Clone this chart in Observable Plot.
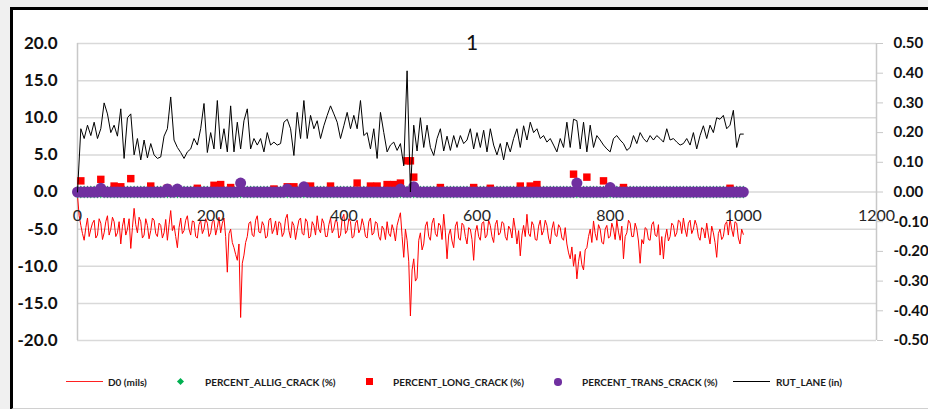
<!DOCTYPE html>
<html><head><meta charset="utf-8">
<script src="https://cdn.jsdelivr.net/npm/d3@7"></script>
<script src="https://cdn.jsdelivr.net/npm/@observablehq/plot@0.6"></script>
<style>
html,body{margin:0;padding:0;background:#f0f0f0;width:928px;height:409px;overflow:hidden;font-family:Lato,"Open Sans",sans-serif;}
#frame{position:absolute;left:10px;top:7px;width:940px;height:398px;background:#fff;border-top:3px solid #000;border-left:3px solid #000;border-bottom:2px solid #d0d0d0;}
#chart{position:absolute;left:0;top:0;}
#title{position:absolute;left:422px;width:100px;top:31px;line-height:22px;text-align:center;font-size:21px;color:#111;}
.lt{position:absolute;top:375px;font-size:10px;font-weight:700;color:#1a1a1a;white-space:nowrap;line-height:14px;}
.lm{position:absolute;}
#chart g[aria-label="y-axis tick label"] text{font-weight:700;}
</style></head>
<body>
<div id="frame"></div>
<div id="chart"></div>
<div id="title">1</div>
<div class="lm" style="left:66px;top:381px;width:37px;height:1px;background:#ff2020"></div>
<div class="lt" style="left:108px">D0 (mils)</div>
<div class="lm" style="left:178px;top:379px;width:5px;height:5px;background:#00b050;transform:rotate(45deg)"></div>
<div class="lt" style="left:205px">PERCENT_ALLIG_CRACK (%)</div>
<div class="lm" style="left:366px;top:378px;width:7px;height:7px;background:#ff0000"></div>
<div class="lt" style="left:393px">PERCENT_LONG_CRACK (%)</div>
<div class="lm" style="left:554px;top:378px;width:7.5px;height:7.5px;border-radius:50%;background:#7030a0"></div>
<div class="lt" style="left:582px">PERCENT_TRANS_CRACK (%)</div>
<div class="lm" style="left:733px;top:381px;width:37px;height:1px;background:#000"></div>
<div class="lt" style="left:776px">RUT_LANE (in)</div>
<script>
// Station of the D0 readings (x)
const d0Station = [
0,2.5,5,7.5,10,12.5,15,17.5,20,22.5,
25,27.5,30,32.5,35,37.5,40,42.5,45,47.5,
50,52.5,55,57.5,60,62.5,65,67.5,70,72.5,
75,77.5,80,82.5,85,87.5,90,92.5,95,97.5,
100,102.5,105,107.5,110,112.5,115,117.5,120,122.5,
125,127.5,130,132.5,135,137.5,140,142.5,145,147.5,
150,152.5,155,157.5,160,162.5,165,167.5,170,172.5,
175,177.5,180,182.5,185,187.5,190,192.5,195,197.5,
200,202.5,205,207.5,210,212.5,215,217.5,220,222.5,
225,227.5,230,232.5,235,237.5,240,242.5,245,247.5,
250,252.5,255,257.5,260,262.5,265,267.5,270,272.5,
275,277.5,280,282.5,285,287.5,290,292.5,295,297.5,
300,302.5,305,307.5,310,312.5,315,317.5,320,322.5,
325,327.5,330,332.5,335,337.5,340,342.5,345,347.5,
350,352.5,355,357.5,360,362.5,365,367.5,370,372.5,
375,377.5,380,382.5,385,387.5,390,392.5,395,397.5,
400,402.5,405,407.5,410,412.5,415,417.5,420,422.5,
425,427.5,430,432.5,435,437.5,440,442.5,445,447.5,
450,452.5,455,457.5,460,462.5,465,467.5,470,472.5,
475,477.5,480,482.5,485,487.5,490,492.5,495,497.5,
500,502.5,505,507.5,510,512.5,515,517.5,520,522.5,
525,527.5,530,532.5,535,537.5,540,542.5,545,547.5,
550,552.5,555,557.5,560,562.5,565,567.5,570,572.5,
575,577.5,580,582.5,585,587.5,590,592.5,595,597.5,
600,602.5,605,607.5,610,612.5,615,617.5,620,622.5,
625,627.5,630,632.5,635,637.5,640,642.5,645,647.5,
650,652.5,655,657.5,660,662.5,665,667.5,670,672.5,
675,677.5,680,682.5,685,687.5,690,692.5,695,697.5,
700,702.5,705,707.5,710,712.5,715,717.5,720,722.5,
725,727.5,730,732.5,735,737.5,740,742.5,745,747.5,
750,752.5,755,757.5,760,762.5,765,767.5,770,772.5,
775,777.5,780,782.5,785,787.5,790,792.5,795,797.5,
800,802.5,805,807.5,810,812.5,815,817.5,820,822.5,
825,827.5,830,832.5,835,837.5,840,842.5,845,847.5,
850,852.5,855,857.5,860,862.5,865,867.5,870,872.5,
875,877.5,880,882.5,885,887.5,890,892.5,895,897.5,
900,902.5,905,907.5,910,912.5,915,917.5,920,922.5,
925,927.5,930,932.5,935,937.5,940,942.5,945,947.5,
950,952.5,955,957.5,960,962.5,965,967.5,970,972.5,
975,977.5,980,982.5,985,987.5,990,992.5,995,997.5,
1000];
// D0 (mils)
const d0 = [
-0.5,-3.2,-4.5,-5.6,-6.5,-4.8,-3.5,-6.0,-5.0,-4.2,
-3.8,-6.2,-5.8,-3.6,-4.2,-6.4,-5.5,-4.0,-3.2,-5.8,
-5.0,-3.4,-4.0,-6.0,-5.5,-4.0,-7.0,-4.6,-3.5,-5.8,
-5.0,-3.6,-7.6,-4.8,-2.2,-4.4,-5.5,-3.4,-4.0,-6.2,
-5.8,-3.6,-4.5,-6.3,-5.2,-3.5,-3.8,-5.6,-6.0,-4.2,
-4.5,-6.2,-5.5,-3.7,-6.5,-4.4,-2.5,-5.2,-4.5,-6.0,
-7.5,-4.8,-3.5,-5.6,-5.2,-3.8,-3.2,-5.0,-5.8,-3.9,
-4.0,-6.0,-6.2,-4.4,-3.8,-5.6,-5.0,-3.6,-4.2,-6.0,
-5.5,-4.0,-3.8,-5.8,-4.8,-3.4,-5.5,-4.2,-3.5,-6.0,
-10.8,-5.6,-5.0,-6.8,-7.5,-8.4,-9.2,-7.0,-16.9,-9.6,
-8.5,-6.8,-6.0,-4.2,-4.0,-5.8,-6.0,-3.8,-3.2,-5.4,
-5.5,-4.0,-4.5,-6.2,-6.0,-3.8,-3.5,-5.6,-5.0,-3.9,
-5.8,-4.0,-4.2,-6.0,-5.5,-3.6,-3.0,-5.2,-6.2,-4.0,
-4.5,-6.4,-5.0,-3.8,-3.5,-5.6,-5.8,-3.6,-4.0,-6.2,
-6.0,-4.0,-4.5,-5.8,-3.2,-5.0,-5.5,-3.6,-4.2,-6.0,
-6.0,-4.4,-3.5,-5.5,-5.0,-3.8,-4.0,-6.2,-5.8,-3.6,
-3.0,-5.6,-5.2,-3.6,-4.0,-6.2,-6.0,-4.2,-3.8,-5.5,
-5.0,-3.6,-4.5,-6.0,-6.2,-4.0,-3.5,-5.8,-5.5,-4.0,
-4.2,-6.0,-6.5,-4.6,-5.0,-6.4,-4.0,-5.6,-6.0,-4.4,
-5.2,-6.6,-4.5,-3.6,-2.8,-6.0,-8.8,-5.0,-6.5,-9.4,
-16.7,-10.5,-9.0,-12.0,-11.6,-6.5,-5.5,-7.8,-7.0,-4.6,
-4.0,-6.0,-6.5,-4.2,-3.5,-5.6,-6.0,-4.2,-4.5,-6.4,
-3.0,-5.4,-9.0,-5.8,-5.0,-6.6,-7.5,-4.6,-4.0,-6.2,
-6.5,-4.2,-4.5,-6.0,-7.0,-4.8,-5.0,-6.4,-9.2,-5.4,
-4.5,-6.0,-6.5,-4.2,-4.0,-6.2,-5.8,-3.8,-4.5,-6.0,
-6.8,-4.4,-3.8,-5.8,-5.5,-4.0,-4.2,-6.0,-6.5,-4.6,
-5.0,-6.2,-3.5,-5.0,-7.0,-5.2,-8.6,-5.8,-4.5,-6.0,
-3.0,-5.6,-6.0,-4.0,-4.5,-6.4,-6.5,-4.6,-3.8,-5.8,
-5.2,-3.8,-4.5,-6.2,-7.0,-5.0,-4.0,-5.8,-6.0,-4.4,
-4.8,-6.2,-6.5,-4.8,-7.0,-8.2,-9.0,-7.4,-10.0,-8.4,
-11.7,-9.4,-8.0,-9.8,-10.5,-7.8,-7.5,-6.0,-5.0,-6.8,
-3.9,-5.6,-6.5,-4.4,-5.0,-6.8,-7.0,-5.0,-4.5,-6.2,
-6.0,-4.2,-5.0,-6.4,-3.8,-5.4,-6.5,-4.6,-9.0,-6.0,
-5.5,-3.8,-4.2,-6.0,-6.0,-4.2,-5.0,-6.6,-9.6,-6.4,
-7.0,-4.8,-5.0,-6.4,-6.5,-4.4,-4.0,-5.8,-6.0,-4.4,
-8.5,-6.0,-9.0,-6.2,-5.0,-6.6,-6.0,-4.2,-4.5,-6.0,
-5.5,-3.8,-4.0,-5.6,-3.5,-5.0,-6.0,-4.2,-3.8,-5.6,
-5.0,-3.8,-4.5,-6.0,-6.5,-4.8,-5.0,-6.2,-4.2,-5.8,
-7.0,-4.6,-5.5,-6.8,-8.8,-5.6,-5.0,-6.4,-6.0,-4.4,
-4.0,-5.8,-3.6,-5.0,-6.0,-4.0,-4.2,-6.2,-7.0,-5.0,
-5.7];
// Station of the crack and rut readings (x)
const station = [
0,5,10,15,20,25,30,35,40,45,
50,55,60,65,70,75,80,85,90,95,
100,105,110,115,120,125,130,135,140,145,
150,155,160,165,170,175,180,185,190,195,
200,205,210,215,220,225,230,235,240,245,
250,255,260,265,270,275,280,285,290,295,
300,305,310,315,320,325,330,335,340,345,
350,355,360,365,370,375,380,385,390,395,
400,405,410,415,420,425,430,435,440,445,
450,455,460,465,470,475,480,485,490,495,
500,505,510,515,520,525,530,535,540,545,
550,555,560,565,570,575,580,585,590,595,
600,605,610,615,620,625,630,635,640,645,
650,655,660,665,670,675,680,685,690,695,
700,705,710,715,720,725,730,735,740,745,
750,755,760,765,770,775,780,785,790,795,
800,805,810,815,820,825,830,835,840,845,
850,855,860,865,870,875,880,885,890,895,
900,905,910,915,920,925,930,935,940,945,
950,955,960,965,970,975,980,985,990,995,
1000];
// PERCENT_ALLIG_CRACK (%)
const alligCrack = [
0,0,0,0,0,0,0,0,0,0, 0,0,0,0,0,0,0,0,0,0,
0,0,0,0,0,0,0,0,0,0, 0,0,0,0,0,0,0,0,0,0,
0,0,0,0,0,0,0,0,0,0, 0,0,0,0,0,0,0,0,0,0,
0,0,0,0,0,0,0,0,0,0, 0,0,0,0,0,0,0,0,0,0,
0,0,0,0,0,0,0,0,0,0, 0,0,0,0,0,0,0,0,0,0,
0,0,0,0,0,0,0,0,0,0, 0,0,0,0,0,0,0,0,0,0,
0,0,0,0,0,0,0,0,0,0, 0,0,0,0,0,0,0,0,0,0,
0,0,0,0,0,0,0,0,0,0, 0,0,0,0,0,0,0,0,0,0,
0,0,0,0,0,0,0,0,0,0, 0,0,0,0,0,0,0,0,0,0,
0,0,0,0,0,0,0,0,0,0, 0,0,0,0,0,0,0,0,0,0,
0];
// PERCENT_LONG_CRACK (%)
const longCrack = [
0,1.5,0,0,0,0,0,1.7,0,0,
0,0.8,0,0.7,0,0,1.8,0,0,0,
0,0,0.8,0,0,0,0,0.5,0,0,
0,0,0,0,0,0,0.5,0,0,0,
0,0.9,0,1.0,0,0,0.6,0,0,0,
0,0,0,0,0,0,0,0,0,0.4,
0,0,0,0.7,0,0.7,0,0,0,0,
0.8,0,0,0,0,0,0.8,0,0,0,
0,0,0,0,1.2,0,0,0,0.8,0,
0.8,0,0,1.0,0,1.0,0,1.2,0,4.2,
4.2,2.0,0,0,0,0,0,0,0,0.6,
0,0,0,0,0,0,0,0,0,0.6,
0,0,0,0,0.5,0,0,0,0,0,
0,0,0,0.8,0,0,0.8,0,1.0,0,
0,0,0,0,0,0,0,0,0,2.4,
0,0,0,2.0,0,0,0,0,1.5,0,
0,0,0,0,0.6,0,0,0,0,0,
0,0,0,0,0,0,0,0,0,0,
0,0,0,0,0,0,0,0,0,0,
0,0,0,0,0,0,0.5,0,0,0,
0];
// PERCENT_TRANS_CRACK (%)
const transCrack = [
0,0,0,0,0,0,0,0.5,0,0,
0,0,0,0,0,0,0,0,0,0,
0,0,0,0,0,0,0,0.4,0,0,
0.4,0,0,0,0,0,0,0,0,0,
0,0,0,0,0,0,0,0,0,1.2,
0,0,0,0,0,0,0,0,0,0,
0,0,0,0.4,0,0,0,0,0.7,0,
0,0,0,0,0,0,0,0,0,0,
0,0,0,0,0,0,0,0,0,0,
0,0,0,0,0,0,0,0.4,0,0,
0,0.7,0,0,0,0,0,0,0,0,
0,0,0,0,0,0,0,0,0,0,
0,0,0,0,0,0,0,0,0,0,
0,0,0,0,0,0,0,0,0,0,
0,0,0,0,0,0,0,0,0,0,
1.2,0,0,0,0,0,0,0,0,0,
0.6,0,0,0,0,0,0,0,0,0,
0,0,0,0,0,0,0,0,0,0,
0,0,0,0,0,0,0,0,0,0,
0,0,0,0,0,0,0,0,0,0,
0];
// RUT_LANE (in)
const rutLane = [
0.000,0.213,0.180,0.225,0.190,0.235,0.180,0.213,0.300,0.263,
0.200,0.225,0.188,0.280,0.113,0.250,0.263,0.125,0.180,0.108,
0.175,0.115,0.163,0.125,0.113,0.118,0.188,0.213,0.320,0.175,
0.150,0.133,0.113,0.135,0.145,0.180,0.158,0.213,0.298,0.133,
0.200,0.145,0.308,0.145,0.213,0.135,0.290,0.135,0.235,0.145,
0.240,0.280,0.145,0.180,0.158,0.180,0.135,0.200,0.158,0.168,
0.158,0.163,0.235,0.245,0.213,0.123,0.268,0.180,0.308,0.180,
0.258,0.213,0.240,0.180,0.223,0.258,0.290,0.263,0.235,0.180,
0.223,0.268,0.213,0.258,0.213,0.308,0.190,0.200,0.145,0.213,
0.113,0.268,0.200,0.135,0.158,0.168,0.140,0.163,0.088,0.408,
0.000,0.225,0.138,0.250,0.150,0.225,0.150,0.123,0.180,0.213,
0.138,0.188,0.140,0.190,0.150,0.190,0.163,0.175,0.213,0.145,
0.200,0.150,0.208,0.135,0.213,0.158,0.125,0.163,0.108,0.168,
0.135,0.180,0.213,0.150,0.223,0.175,0.235,0.200,0.213,0.180,
0.190,0.168,0.180,0.158,0.135,0.180,0.150,0.235,0.150,0.245,
0.240,0.145,0.235,0.135,0.225,0.150,0.190,0.175,0.158,0.145,
0.135,0.180,0.190,0.175,0.163,0.140,0.150,0.190,0.163,0.200,
0.180,0.168,0.190,0.175,0.190,0.180,0.168,0.213,0.175,0.180,
0.168,0.158,0.163,0.180,0.158,0.200,0.145,0.190,0.223,0.180,
0.225,0.200,0.250,0.245,0.258,0.213,0.225,0.275,0.150,0.195,
0.195];
// axis ticks
const xTicks = [0,200,400,600,800,1000,1200];
const yTicksLeft = [-20,-15,-10,-5,0,5,10,15,20];      // mils / %
const yTicksRight = [-0.5,-0.4,-0.3,-0.2,-0.1,0,0.1,0.2,0.3,0.4,0.5]; // inches
const RUT_FACTOR = 40; // 0.50 in on the right axis ↔ 20.0 on the left axis

const d0Rows = d0Station.map((s, i) => ({station: s, d0: d0[i]}));
const rows = station.map((s, i) => ({
  station: s, allig: alligCrack[i], long: longCrack[i],
  trans: transCrack[i], rut: rutLane[i]
}));

const chart = Plot.plot({
  width: 928, height: 409,
  marginLeft: 77, marginRight: 52, marginTop: 43, marginBottom: 69,
  style: {background: "transparent", fontFamily: "Lato, 'Open Sans', sans-serif", overflow: "visible"},
  x: {domain: [0, 1200], axis: null},
  y: {domain: [-20, 20], axis: null},
  marks: [
    Plot.gridY(yTicksLeft, {stroke: "#d9d9d9", strokeOpacity: 1, strokeWidth: 1.5}),
    Plot.ruleX([0], {stroke: "#c8c8c8", strokeWidth: 1.5}),
    Plot.ruleX([1200], {stroke: "#c8c8c8", strokeWidth: 1.5}),
    Plot.axisY(yTicksLeft, {anchor: "left", tickSize: 0, tickPadding: 20, label: null,
      tickFormat: d => d.toFixed(1), fontSize: 17, fontWeight: 700, fill: "#111"}),
    Plot.axisY(yTicksRight.map(v => v * RUT_FACTOR), {anchor: "right", tickSize: 6, tickPadding: 11, label: null,
      tickFormat: d => (d / RUT_FACTOR).toFixed(2), fontSize: 15, fontWeight: 700, stroke: "#c8c8c8", fill: "#111", textAnchor: "start"}),
    Plot.line(d0Rows, {x: "station", y: "d0", stroke: "#ff0000", strokeWidth: 1}),
    Plot.dot(rows, {x: "station", y: "allig", symbol: "diamond", r: 4, fill: "#00b050", stroke: "none"}),
    Plot.dot(rows, {x: "station", y: "long", symbol: "square", r: 4.2, fill: "#ff0000", stroke: "none"}),
    Plot.dot(rows, {x: "station", y: "trans", symbol: "circle", r: 5.5, fill: "#7030a0", stroke: "none"}),
    Plot.line(rows, {x: "station", y: d => d.rut * RUT_FACTOR, stroke: "#000", strokeWidth: 1}),
    Plot.text(xTicks, {x: d => d, y: 0, dy: 24, text: d => String(d), fontSize: 16, fill: "#262626"})
  ]
});
document.getElementById("chart").appendChild(chart);
</script>
</body></html>
